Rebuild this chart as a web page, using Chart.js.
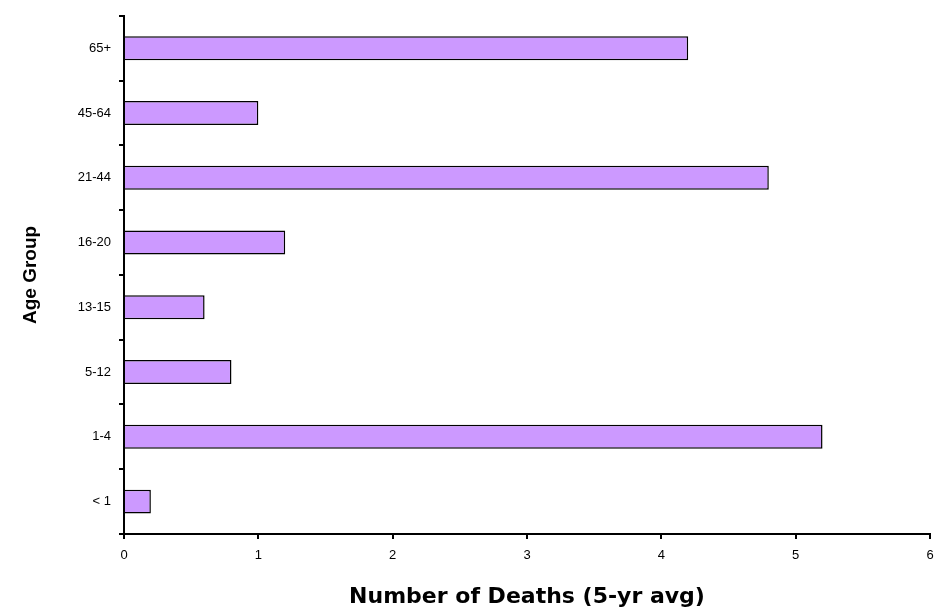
<!DOCTYPE html>
<html lang="en">
<head>
    <meta charset="UTF-8">
    <title>Number of Deaths by Age Group</title>
    <script src="https://cdn.jsdelivr.net/npm/chart.js"></script>
    <style>
        html, body {
            margin: 0;
            padding: 0;
            background: #fff;
        }
        .chart-box {
            width: 943px;
            height: 611px;
        }
    </style>
</head>
<body>
    <div class="chart-box">
        <canvas id="deathsChart"></canvas>
    </div>

    <script>
        // Age groups, top to bottom as shown
        const ageGroups = ['65+', '45-64', '21-44', '16-20', '13-15', '5-12', '1-4', '< 1'];
        // Number of deaths (5-yr avg)
        const deaths = [4.2, 1.0, 4.8, 1.2, 0.6, 0.8, 5.2, 0.2];
        const xTicks = [0, 1, 2, 3, 4, 5, 6];

        const tickFont = { family: 'Liberation Sans, Arial, sans-serif', size: 13 };
        const xTitleFont = { family: 'DejaVu Sans, sans-serif', size: 22, weight: 'bold' };
        const yTitleFont = { family: 'Liberation Sans, Arial, sans-serif', size: 19, weight: 'bold' };

        var ctx = document.getElementById('deathsChart').getContext('2d');
        var deathsChart = new Chart(ctx, {
            type: 'bar',
            data: {
                labels: ageGroups,
                datasets: [{
                    label: 'Number of Deaths (5-yr avg)',
                    data: deaths,
                    backgroundColor: '#CC99FF',
                    borderColor: '#000000',
                    borderWidth: 1.5,
                    barPercentage: 0.37,
                    categoryPercentage: 1.0
                }]
            },
            options: {
                indexAxis: 'y',
                responsive: true,
                maintainAspectRatio: false,
                animation: false,
                layout: {
                    padding: { top: 13, right: 13, bottom: 0, left: 0 }
                },
                plugins: {
                    legend: { display: false },
                    tooltip: { enabled: false }
                },
                scales: {
                    x: {
                        min: 0,
                        max: 6,
                        afterBuildTicks: function (scale) {
                            scale.ticks = xTicks.map(v => ({ value: v }));
                        },
                        afterFit: function (scale) {
                            scale.height = 77;
                        },
                        grid: {
                            drawOnChartArea: false,
                            drawTicks: true,
                            tickLength: 5,
                            color: '#000',
                            lineWidth: 2
                        },
                        border: { display: true, color: '#000', width: 2 },
                        ticks: {
                            color: '#000',
                            font: tickFont,
                            padding: 9,
                            maxRotation: 0
                        },
                        title: {
                            display: true,
                            text: 'Number of Deaths (5-yr avg)',
                            color: '#000',
                            font: xTitleFont,
                            padding: { top: 0, bottom: 1 }
                        }
                    },
                    y: {
                        afterFit: function (scale) {
                            scale.width = 124;
                        },
                        grid: {
                            offset: true,
                            drawOnChartArea: false,
                            drawTicks: true,
                            tickLength: 5,
                            color: '#000',
                            lineWidth: 2
                        },
                        border: { display: true, color: '#000', width: 2 },
                        ticks: {
                            color: '#000',
                            font: tickFont,
                            padding: 8
                        },
                        title: {
                            display: true,
                            text: 'Age Group',
                            color: '#000',
                            font: yTitleFont,
                            padding: { top: 19, bottom: 0 }
                        }
                    }
                }
            }
        });
    </script>
</body>
</html>
